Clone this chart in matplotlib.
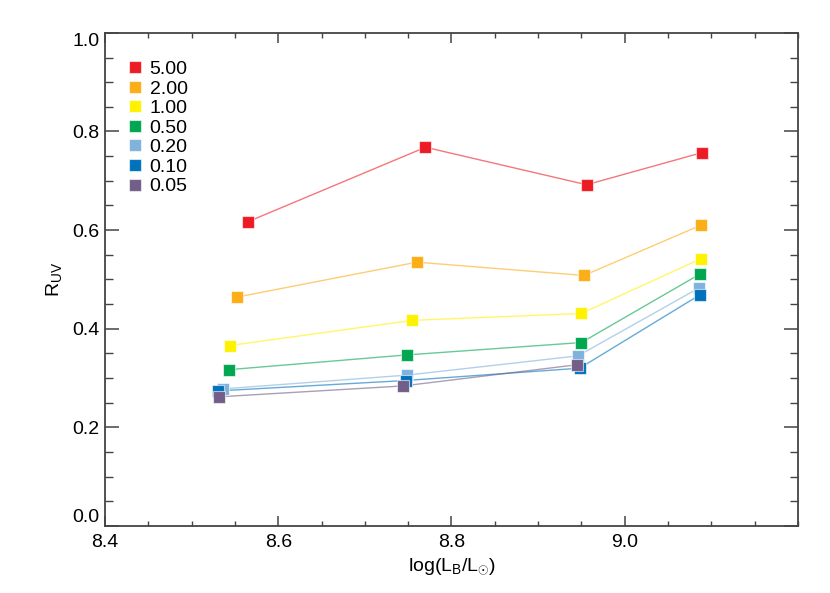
import matplotlib
matplotlib.use("Agg")
import matplotlib.pyplot as plt
from matplotlib.ticker import MultipleLocator

plt.rcParams['font.family'] = ['Liberation Sans', 'DejaVu Sans']
plt.rcParams['mathtext.fontset'] = 'custom'
plt.rcParams['mathtext.rm'] = 'Liberation Sans'
plt.rcParams['mathtext.it'] = 'Liberation Sans'

labels = ['5.00', '2.00', '1.00', '0.50', '0.20', '0.10', '0.05']
colors = ['#ED1C24', '#FBAE17', '#FFF200', '#00A650', '#7FB2DC', '#0072BC', '#725E89']

x_500 = [8.565, 8.770, 8.956, 9.089]
y_500 = [0.617, 0.768, 0.692, 0.757]
x_200 = [8.552, 8.760, 8.953, 9.088]
y_200 = [0.464, 0.535, 0.508, 0.610]
x_100 = [8.544, 8.755, 8.950, 9.088]
y_100 = [0.366, 0.417, 0.431, 0.542]
x_050 = [8.543, 8.749, 8.950, 9.087]
y_050 = [0.317, 0.347, 0.372, 0.511]
x_020 = [8.536, 8.749, 8.946, 9.086]
y_020 = [0.278, 0.306, 0.345, 0.483]
x_010 = [8.531, 8.747, 8.948, 9.087]
y_010 = [0.274, 0.295, 0.320, 0.469]
x_005 = [8.532, 8.744, 8.945]
y_005 = [0.262, 0.284, 0.327]

xs = [x_500, x_200, x_100, x_050, x_020, x_010, x_005]
ys = [y_500, y_200, y_100, y_050, y_020, y_010, y_005]

xticks = [8.4, 8.6, 8.8, 9.0]
yticks = [0.0, 0.2, 0.4, 0.6, 0.8, 1.0]

fig = plt.figure(figsize=(8.3, 5.93), dpi=100)
ax = fig.add_axes([0.1265, 0.113, 0.8349, 0.8316])

handles = []
for x, y, c, lab in zip(xs, ys, colors, labels):
    ax.plot(x, y, color=c, alpha=0.6, lw=1.0, zorder=2)
    h, = ax.plot(x, y, 's', color=c, ms=8.6, mec=(1, 1, 1, 0.6), mew=0.8,
                 label=lab, zorder=3)
    handles.append(h)

ax.set_xlim(8.4, 9.2)
ax.set_ylim(0.0, 1.0)
ax.set_xticks(xticks, ['%.1f' % v for v in xticks])
ax.set_yticks(yticks, ['%.1f' % v for v in yticks])
ax.xaxis.set_minor_locator(MultipleLocator(0.05))
ax.yaxis.set_minor_locator(MultipleLocator(0.05))

axcol = '#444444'
for s in ax.spines.values():
    s.set_color(axcol)
    s.set_linewidth(1.3)
ax.tick_params(which='both', direction='in', top=True, right=True,
               colors=axcol, labelcolor='black', labelsize=14)
ax.tick_params(axis='x', which='major', length=7, width=1.1, pad=6)
ax.tick_params(axis='x', which='minor', length=3.6, width=1.0)
ax.tick_params(axis='y', which='major', length=10, width=1.1, pad=4)
ax.tick_params(axis='y', which='minor', length=5.5, width=1.0)

ylabs = ax.get_yticklabels()
ylabs[0].set_va('bottom')
ylabs[-1].set_va('top')

ax.set_xlabel(r'log(L$_{\rm B}$/L$_{\odot}$)', fontsize=14, labelpad=4)
ax.set_ylabel(r'R$_{\rm UV}$', fontsize=14, labelpad=6)

ax.legend(handles=handles, loc='upper left', bbox_to_anchor=(0.035, 0.944),
          frameon=False, fontsize=14, handlelength=0.6, handletextpad=0.45,
          labelspacing=0.1, borderaxespad=0, borderpad=0)

fig.savefig('out.png', dpi=100)
